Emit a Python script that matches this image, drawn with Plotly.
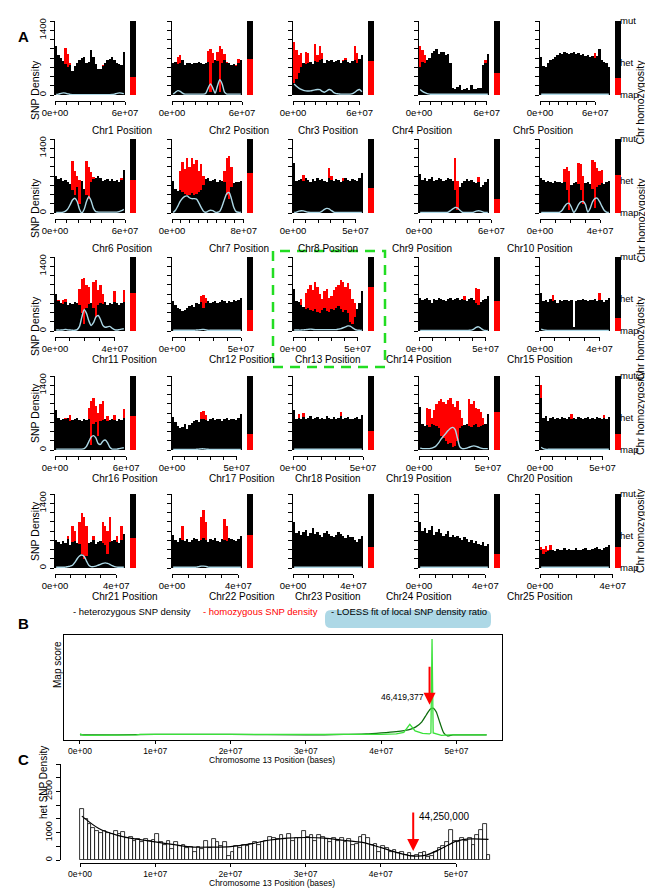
import plotly.graph_objects as go

W, H = 653, 888
FONT = "Liberation Sans, Arial, Helvetica, sans-serif"
RED = "#FF0000"
LOESS_COLOR = "#ADD8E6"

# ---------------- data: panel A ----------------
chromosomes = [f"Chr{i}" for i in range(1, 26)]
chr_length_mb = [60, 60, 63, 62, 76, 60, 78, 56, 58, 46.6, 46.7, 50.7, 54.1, 52.5, 47,
                 59, 54, 50, 50.7, 56, 45.7, 42.2, 46.3, 42.2, 38.5]
x_last_tick_mb = [60, 60, 60, 60, 60, 60, 80, 50, 60, 40, 40, 50, 50, 50, 40,
                  60, 50, 50, 50, 50, 40, 40, 40, 40, 40]
chr_homozygosity = [0.25, 0.49, 0.455, 0.30, 0.23, 0.45, 0.54, 0.34, 0.19, 0.52,
                    0.51, 0.29, 0.60, 0.41, 0.17, 0.46, 0.22, 0.26, 0.51, 0.21,
                    0.41, 0.44, 0.28, 0.19, 0.28]
density_ticks = [0, 200, 400, 600, 800, 1000, 1200, 1400, 1600]
density_ticktext = ["0", "", "", "", "", "", "", "1400", ""]

het_chr1 = [1050, 860, 800, 740, 680, 600, 640, 520, 620, 700, 760, 800, 820, 700, 720, 980, 820, 680, 560, 560, 620, 700, 760, 780, 820, 760, 700, 680, 640, 940]
hom_chr1 = [0, 0, 0, 0, 1020, 880, 700, 0, 0, 0, 0, 0, 0, 0, 0, 0, 0, 0, 0, 0, 640, 0, 0, 0, 0, 0, 0, 0, 0, 0]
loess_chr1 = [10, 20, 35, 45, 40, 25, 12, 8, 8, 8, 8, 8, 8, 8, 8, 8, 8, 8, 8, 8, 8, 8, 8, 8, 10, 20, 35, 45, 40, 30]

het_chr2 = [700, 720, 680, 700, 760, 640, 700, 690, 680, 700, 700, 720, 700, 680, 700, 720, 60, 700, 760, 740, 60, 700, 760, 700, 690, 650, 680, 620, 700, 760]
hom_chr2 = [0, 0, 820, 860, 0, 0, 0, 0, 0, 0, 0, 0, 0, 0, 0, 960, 1000, 900, 0, 940, 1050, 1000, 880, 720, 0, 0, 0, 640, 780, 0]
loess_chr2 = [20, 60, 95, 80, 40, 20, 20, 20, 20, 20, 20, 20, 20, 20, 40, 150, 240, 150, 40, 200, 330, 240, 60, 20, 20, 20, 20, 20, 20, 20]

het_chr3 = [250, 350, 480, 600, 700, 660, 700, 720, 680, 740, 720, 760, 780, 700, 760, 740, 760, 720, 740, 760, 700, 740, 760, 720, 700, 740, 760, 700, 780, 860]
hom_chr3 = [1150, 980, 860, 900, 0, 920, 900, 0, 0, 1100, 860, 1050, 900, 0, 0, 0, 0, 0, 0, 0, 0, 760, 800, 0, 0, 0, 1050, 900, 0, 0]
loess_chr3 = [240, 190, 150, 120, 100, 90, 85, 90, 100, 110, 120, 115, 80, 60, 90, 120, 100, 50, 30, 25, 20, 20, 20, 20, 20, 30, 60, 100, 120, 70]

het_chr4 = [600, 720, 700, 760, 800, 900, 960, 1000, 880, 920, 940, 860, 880, 700, 160, 120, 180, 220, 110, 120, 150, 100, 220, 130, 120, 150, 160, 640, 700, 880]
hom_chr4 = [1050, 980, 860, 0, 0, 0, 0, 0, 0, 0, 0, 0, 0, 0, 0, 0, 0, 0, 0, 0, 0, 0, 0, 0, 0, 0, 0, 0, 760, 0]
loess_chr4 = [120, 80, 50, 30, 20, 15, 15, 15, 15, 15, 15, 15, 15, 15, 15, 15, 15, 15, 15, 15, 15, 15, 15, 15, 15, 15, 15, 15, 15, 15]

het_chr5 = [820, 620, 600, 700, 760, 780, 820, 860, 900, 880, 920, 900, 880, 900, 920, 880, 900, 860, 880, 840, 860, 820, 840, 800, 840, 1000, 760, 720, 700, 600]
hom_chr5 = [0, 0, 0, 0, 0, 0, 0, 0, 0, 0, 0, 0, 0, 0, 0, 0, 0, 0, 0, 0, 0, 0, 0, 900, 0, 0, 0, 0, 0, 0]
loess_chr5 = [15, 15, 15, 15, 15, 15, 15, 15, 15, 15, 15, 15, 15, 15, 15, 15, 15, 15, 15, 15, 15, 15, 15, 15, 15, 15, 15, 15, 15, 15]

het_chr6 = [800, 740, 760, 700, 720, 680, 620, 500, 400, 560, 200, 700, 520, 400, 300, 680, 740, 760, 800, 760, 700, 720, 740, 700, 740, 700, 720, 680, 720, 920]
hom_chr6 = [0, 0, 0, 0, 0, 0, 0, 1130, 900, 800, 720, 0, 0, 1120, 1000, 880, 780, 0, 0, 0, 0, 0, 0, 0, 0, 0, 0, 0, 760, 0]
loess_chr6 = [10, 10, 10, 20, 40, 90, 180, 280, 320, 250, 80, 0, 80, 250, 350, 260, 100, 30, 20, 20, 20, 20, 20, 20, 20, 20, 20, 30, 50, 80]

het_chr7 = [700, 520, 480, 500, 460, 420, 380, 400, 440, 380, 420, 460, 500, 600, 740, 760, 700, 720, 740, 680, 720, 700, 660, 400, 300, 560, 640, 680, 660, 700]
hom_chr7 = [0, 0, 0, 900, 1100, 950, 1180, 1000, 1200, 1050, 1150, 900, 1050, 800, 0, 0, 0, 0, 0, 0, 0, 0, 900, 1200, 1230, 1000, 0, 0, 0, 0]
loess_chr7 = [10, 60, 150, 250, 320, 360, 370, 330, 310, 310, 300, 220, 120, 40, 15, 40, 60, 50, 20, 15, 40, 150, 300, 420, 440, 300, 120, 30, 15, 15]

het_chr8 = [1080, 700, 720, 740, 700, 760, 720, 680, 740, 700, 760, 720, 740, 700, 660, 760, 720, 700, 740, 720, 680, 700, 760, 720, 700, 740, 720, 700, 760, 860]
hom_chr8 = [0, 0, 0, 0, 820, 0, 0, 0, 0, 0, 0, 0, 0, 0, 0, 980, 800, 0, 0, 0, 0, 760, 0, 0, 0, 0, 0, 0, 0, 0]
loess_chr8 = [10, 20, 40, 50, 45, 30, 15, 10, 10, 10, 10, 15, 40, 80, 100, 90, 50, 20, 10, 10, 10, 10, 10, 10, 10, 10, 10, 10, 10, 10]

het_chr9 = [840, 720, 760, 700, 740, 780, 700, 720, 760, 740, 700, 720, 760, 740, 700, 500, 60, 560, 640, 700, 740, 700, 720, 680, 640, 660, 560, 600, 680, 740]
hom_chr9 = [0, 0, 0, 0, 0, 0, 0, 0, 0, 0, 0, 0, 0, 0, 0, 1200, 700, 0, 0, 0, 0, 0, 0, 0, 0, 780, 0, 0, 0, 0]
loess_chr9 = [10, 10, 10, 10, 10, 10, 10, 10, 10, 10, 10, 10, 20, 50, 90, 120, 110, 60, 20, 10, 10, 10, 10, 20, 40, 50, 40, 20, 10, 10]

het_chr10 = [760, 720, 680, 700, 660, 640, 700, 680, 660, 640, 680, 500, 60, 600, 640, 660, 620, 500, 200, 640, 680, 620, 520, 100, 560, 600, 640, 620, 660, 700]
hom_chr10 = [0, 0, 0, 0, 0, 0, 0, 0, 0, 0, 960, 1000, 900, 0, 0, 0, 1080, 1060, 800, 0, 0, 0, 1150, 1100, 980, 900, 920, 0, 0, 0]
loess_chr10 = [10, 10, 10, 10, 10, 10, 10, 10, 20, 60, 140, 200, 210, 120, 10, 80, 180, 240, 250, 180, 20, 100, 240, 310, 320, 250, 150, 60, 20, 10]

het_chr11 = [800, 640, 600, 580, 620, 560, 600, 580, 620, 600, 560, 400, 150, 500, 580, 600, 500, 300, 560, 600, 580, 620, 560, 600, 580, 620, 600, 560, 600, 620]
hom_chr11 = [0, 660, 0, 680, 700, 0, 0, 0, 0, 0, 900, 1120, 1150, 1000, 950, 0, 1050, 1100, 880, 1000, 800, 0, 0, 0, 0, 870, 0, 0, 0, 880]
loess_chr11 = [20, 20, 20, 25, 35, 25, 20, 15, 15, 30, 100, 300, 460, 380, 220, 120, 180, 300, 335, 250, 120, 80, 90, 100, 60, 30, 20, 30, 40, 50]

het_chr12 = [640, 560, 500, 480, 440, 460, 500, 540, 560, 520, 600, 580, 620, 500, 600, 640, 600, 620, 640, 600, 620, 660, 640, 600, 640, 620, 660, 640, 680, 720]
hom_chr12 = [0, 0, 0, 0, 0, 0, 0, 0, 0, 0, 0, 0, 760, 780, 720, 0, 0, 0, 0, 0, 0, 0, 0, 0, 0, 0, 0, 0, 0, 0]
loess_chr12 = [15, 15, 15, 15, 15, 15, 15, 15, 15, 15, 20, 25, 30, 35, 25, 15, 15, 15, 15, 15, 15, 15, 15, 15, 15, 15, 15, 15, 15, 15]

het_chr13 = [900, 640, 620, 560, 520, 480, 500, 460, 440, 480, 420, 400, 460, 500, 440, 420, 480, 460, 500, 540, 480, 420, 460, 380, 200, 160, 300, 480, 600, 860]
hom_chr13 = [0, 0, 0, 700, 0, 820, 900, 1000, 880, 1050, 960, 800, 700, 860, 900, 720, 760, 880, 960, 1000, 1100, 1050, 960, 1040, 900, 700, 600, 0, 0, 0]
loess_chr13 = [20, 20, 20, 20, 25, 30, 35, 40, 35, 30, 30, 30, 30, 30, 30, 30, 30, 30, 30, 40, 50, 70, 90, 110, 105, 70, 35, 20, 15, 15]

het_chr14 = [720, 680, 700, 720, 660, 600, 700, 680, 720, 700, 660, 640, 700, 720, 680, 700, 720, 660, 700, 680, 640, 700, 720, 680, 600, 560, 620, 680, 700, 760]
hom_chr14 = [0, 0, 0, 0, 0, 0, 0, 0, 0, 0, 0, 0, 0, 0, 0, 0, 0, 0, 0, 760, 0, 0, 0, 0, 940, 900, 0, 0, 0, 0]
loess_chr14 = [10, 10, 10, 10, 10, 10, 10, 10, 10, 10, 10, 10, 10, 10, 10, 10, 10, 10, 10, 10, 10, 15, 20, 40, 80, 90, 60, 25, 10, 10]

het_chr15 = [820, 640, 660, 620, 700, 640, 680, 600, 660, 640, 680, 660, 640, 680, 80, 640, 680, 660, 700, 660, 640, 680, 660, 700, 640, 680, 660, 620, 660, 720]
hom_chr15 = [0, 0, 0, 0, 0, 780, 0, 0, 0, 0, 0, 0, 0, 0, 0, 0, 0, 0, 0, 0, 0, 0, 0, 0, 0, 820, 0, 0, 0, 0]
loess_chr15 = [40, 25, 15, 10, 10, 10, 10, 10, 10, 10, 10, 10, 10, 10, 10, 10, 10, 10, 10, 10, 10, 10, 10, 10, 10, 10, 10, 10, 10, 10]

het_chr16 = [860, 700, 640, 680, 660, 700, 620, 640, 660, 700, 640, 620, 660, 640, 680, 100, 560, 600, 300, 620, 640, 660, 620, 640, 680, 640, 620, 660, 640, 700]
hom_chr16 = [0, 700, 0, 0, 700, 0, 760, 0, 0, 0, 0, 0, 0, 0, 900, 1050, 1130, 960, 800, 1000, 1060, 0, 740, 0, 0, 760, 0, 0, 0, 880]
loess_chr16 = [20, 20, 20, 20, 20, 20, 20, 20, 20, 20, 20, 20, 30, 80, 180, 280, 310, 260, 140, 120, 190, 215, 160, 60, 20, 20, 20, 30, 40, 50]

het_chr17 = [720, 600, 520, 480, 500, 560, 460, 540, 580, 620, 640, 600, 680, 660, 640, 620, 660, 700, 640, 660, 680, 620, 660, 700, 640, 680, 660, 640, 700, 780]
hom_chr17 = [0, 0, 0, 0, 0, 0, 0, 0, 0, 0, 0, 0, 830, 840, 760, 0, 0, 0, 0, 0, 0, 0, 0, 0, 0, 0, 0, 0, 0, 0]
loess_chr17 = [10, 10, 10, 10, 10, 10, 10, 10, 10, 10, 15, 20, 25, 25, 20, 15, 10, 10, 10, 10, 10, 10, 10, 10, 10, 10, 10, 10, 10, 10]

het_chr18 = [860, 660, 700, 680, 720, 660, 700, 740, 680, 700, 720, 660, 700, 680, 740, 700, 680, 720, 660, 700, 740, 680, 700, 720, 680, 660, 700, 720, 680, 760]
hom_chr18 = [0, 0, 780, 0, 800, 0, 0, 0, 0, 0, 0, 0, 0, 0, 0, 0, 0, 0, 0, 0, 820, 0, 0, 0, 0, 0, 0, 0, 0, 0]
loess_chr18 = [15, 15, 15, 15, 15, 15, 15, 15, 15, 15, 15, 15, 15, 15, 15, 15, 15, 15, 15, 15, 15, 15, 15, 15, 15, 15, 15, 15, 15, 15]

het_chr19 = [920, 560, 520, 540, 500, 560, 540, 520, 480, 300, 250, 200, 120, 150, 60, 80, 200, 480, 520, 540, 560, 520, 500, 540, 560, 500, 520, 540, 560, 780]
hom_chr19 = [0, 0, 0, 900, 880, 700, 860, 1000, 1060, 1100, 1040, 1000, 1080, 1130, 1000, 920, 1050, 860, 700, 0, 0, 1100, 1000, 1050, 900, 880, 820, 700, 0, 0]
loess_chr19 = [40, 30, 30, 30, 30, 40, 60, 100, 160, 240, 300, 360, 420, 470, 490, 440, 250, 70, 30, 30, 40, 60, 80, 90, 80, 60, 40, 30, 30, 30]

het_chr20 = [1130, 700, 740, 620, 700, 720, 680, 700, 660, 720, 700, 680, 720, 660, 700, 680, 720, 700, 660, 700, 720, 680, 700, 660, 720, 700, 680, 700, 660, 720]
hom_chr20 = [1400, 0, 0, 0, 0, 0, 0, 0, 0, 0, 0, 0, 0, 780, 0, 0, 0, 0, 0, 0, 0, 0, 0, 0, 0, 0, 0, 760, 0, 0]
loess_chr20 = [60, 30, 15, 15, 15, 15, 15, 15, 15, 15, 15, 15, 15, 15, 15, 15, 15, 15, 15, 15, 15, 15, 15, 15, 15, 15, 15, 15, 15, 15]

het_chr21 = [600, 560, 520, 580, 540, 620, 500, 560, 580, 540, 520, 300, 200, 250, 540, 560, 600, 520, 560, 580, 540, 500, 300, 560, 580, 600, 560, 540, 600, 740]
hom_chr21 = [0, 0, 0, 0, 0, 700, 0, 900, 800, 0, 1000, 1200, 1100, 900, 0, 0, 700, 0, 0, 0, 1000, 900, 800, 1100, 0, 0, 700, 0, 900, 0]
loess_chr21 = [15, 15, 15, 15, 20, 30, 40, 60, 120, 200, 260, 280, 250, 150, 60, 30, 30, 40, 60, 80, 100, 110, 100, 80, 50, 30, 20, 15, 15, 15]

het_chr22 = [720, 600, 560, 640, 600, 580, 620, 560, 600, 640, 620, 580, 600, 640, 600, 560, 620, 600, 640, 580, 560, 620, 600, 580, 640, 620, 600, 580, 620, 700]
hom_chr22 = [0, 0, 0, 0, 900, 0, 0, 0, 0, 0, 0, 0, 1100, 1250, 1000, 0, 0, 0, 0, 0, 0, 0, 1050, 900, 0, 0, 0, 0, 0, 0]
loess_chr22 = [15, 15, 15, 15, 15, 15, 15, 15, 15, 15, 20, 30, 40, 40, 35, 20, 15, 15, 15, 15, 15, 15, 15, 15, 15, 15, 15, 15, 15, 15]

het_chr23 = [1000, 760, 800, 720, 780, 820, 700, 760, 860, 740, 780, 720, 680, 760, 800, 740, 700, 660, 720, 780, 740, 700, 640, 720, 680, 660, 600, 560, 620, 700]
hom_chr23 = [0, 0, 0, 0, 0, 0, 0, 0, 0, 0, 0, 0, 0, 0, 0, 0, 0, 0, 0, 0, 0, 0, 0, 0, 0, 0, 0, 0, 0, 0]
loess_chr23 = [15, 15, 15, 15, 15, 15, 15, 15, 15, 15, 15, 15, 15, 15, 15, 15, 15, 15, 15, 15, 15, 15, 15, 15, 15, 15, 15, 15, 15, 15]

het_chr24 = [1000, 800, 860, 760, 820, 900, 720, 780, 840, 760, 700, 740, 800, 680, 720, 660, 700, 640, 600, 680, 620, 560, 600, 540, 580, 520, 500, 560, 480, 520]
hom_chr24 = [0, 0, 0, 0, 0, 0, 0, 0, 0, 0, 0, 0, 0, 0, 0, 0, 0, 0, 0, 0, 0, 0, 0, 0, 0, 0, 0, 0, 0, 0]
loess_chr24 = [15, 15, 15, 15, 15, 15, 15, 15, 15, 15, 15, 15, 15, 15, 15, 15, 15, 15, 15, 15, 15, 15, 15, 15, 15, 15, 15, 15, 15, 15]

het_chr25 = [380, 300, 340, 360, 400, 380, 360, 420, 380, 400, 440, 380, 420, 400, 380, 440, 400, 380, 420, 440, 400, 380, 420, 440, 460, 420, 400, 440, 460, 500]
hom_chr25 = [450, 420, 480, 400, 500, 0, 0, 0, 0, 0, 0, 0, 0, 0, 0, 0, 0, 0, 0, 0, 0, 0, 0, 0, 0, 0, 0, 0, 0, 0]
loess_chr25 = [15, 15, 15, 15, 15, 15, 15, 15, 15, 15, 15, 15, 15, 15, 15, 15, 15, 15, 15, 15, 15, 15, 15, 15, 15, 15, 15, 15, 15, 15]

het_series = [het_chr1, het_chr2, het_chr3, het_chr4, het_chr5, het_chr6, het_chr7, het_chr8, het_chr9, het_chr10,
              het_chr11, het_chr12, het_chr13, het_chr14, het_chr15, het_chr16, het_chr17, het_chr18, het_chr19, het_chr20,
              het_chr21, het_chr22, het_chr23, het_chr24, het_chr25]
hom_series = [hom_chr1, hom_chr2, hom_chr3, hom_chr4, hom_chr5, hom_chr6, hom_chr7, hom_chr8, hom_chr9, hom_chr10,
              hom_chr11, hom_chr12, hom_chr13, hom_chr14, hom_chr15, hom_chr16, hom_chr17, hom_chr18, hom_chr19, hom_chr20,
              hom_chr21, hom_chr22, hom_chr23, hom_chr24, hom_chr25]
loess_series = [loess_chr1, loess_chr2, loess_chr3, loess_chr4, loess_chr5, loess_chr6, loess_chr7, loess_chr8, loess_chr9, loess_chr10,
                loess_chr11, loess_chr12, loess_chr13, loess_chr14, loess_chr15, loess_chr16, loess_chr17, loess_chr18, loess_chr19, loess_chr20,
                loess_chr21, loess_chr22, loess_chr23, loess_chr24, loess_chr25]

# ---------------- data: panel B ----------------
b_pos_light_mb = [0, 0.5, 1, 2, 4, 6, 7.5, 8, 10, 15, 20, 25, 30, 35, 38, 40, 42, 43, 43.8, 44.5, 45.5, 46.4, 46.6, 46.75, 46.9, 47.3, 48, 49, 50, 52, 54]
b_score_light = [0.06, 0.045, 0.045, 0.045, 0.045, 0.045, 0.05, 0.055, 0.055, 0.055, 0.055, 0.055, 0.05, 0.05, 0.05, 0.055, 0.06, 0.075, 0.155, 0.09, 0.065, 0.06, 0.07, 1.0, 0.07, 0.06, 0.045, 0.05, 0.05, 0.05, 0.05]
b_pos_dark_mb = [0, 5, 10, 20, 30, 35, 38, 40, 42, 43.6, 44.6, 45.4, 46.0, 46.5, 46.9, 47.3, 47.8, 48.3, 48.8, 49.5, 52, 54]
b_score_dark = [0.05, 0.05, 0.055, 0.055, 0.05, 0.055, 0.06, 0.07, 0.083, 0.1, 0.13, 0.18, 0.25, 0.305, 0.315, 0.28, 0.17, 0.07, 0.04, 0.05, 0.05, 0.05]
b_arrow_pos = 46419377
b_ticks_mb = [0, 10, 20, 30, 40, 50]
b_ticktext = ["0e+00", "1e+07", "2e+07", "3e+07", "4e+07", "5e+07"]

# ---------------- data: panel C ----------------
c_bin_mb = 0.5
c_het_density = [1870, 1500, 1320, 1150, 1050, 1000, 1050, 1000, 950, 1050,
                 950, 1030, 800, 850, 700, 780, 650, 750, 700, 720,
                 950, 650, 550, 700, 400, 650, 500, 550, 450, 480,
                 300, 480, 400, 700, 450, 750, 650, 500, 650, 150,
                 280, 500, 450, 550, 500, 600, 650, 550, 650, 700,
                 850, 800, 750, 900, 750, 950, 700, 800, 800, 1050,
                 850, 900, 700, 900, 850, 750, 650, 800, 700, 800,
                 650, 750, 550, 600, 850, 900, 800, 550, 600, 300,
                 500, 450, 300, 350, 250, 300, 200, 250, 150, 200,
                 250, 300, 100, 150, 300, 450, 500, 650, 1100, 700,
                 650, 800, 700, 800, 550, 900, 1100, 1300, 200]
c_smooth_pos_mb = [0.25, 2.5, 5, 7.5, 10, 12.5, 15, 17.5, 20, 22.5, 25, 27.5, 30, 32.5, 35, 37.5, 40, 42, 44, 46, 48, 50, 52, 54.25]
c_smooth = [1600, 1150, 900, 760, 660, 560, 470, 470, 490, 580, 720, 800, 820, 800, 720, 640, 450, 280, 150, 180, 420, 690, 770, 750]
c_arrow_pos = 44250000
c_yticks = [0, 500, 1000, 1500, 2000, 2500, 3000, 3500]
c_yticktext = ["0", "", "1000", "", "", "2500", "", ""]

# ---------------- layout geometry (pixels) ----------------
COL_X0 = [47, 164, 285, 411, 532]
ROW_TOP = [13, 131, 249, 368, 486]
PANEL_W, PANEL_H = 70, 74
AXIS_GAP = 6
TITLE_GAP = 28

def fx(p):
    return p / W

def fy(p):
    return 1 - p / H

def xr(k):
    return "x" if k == 1 else f"x{k}"

def yr(k):
    return "y" if k == 1 else f"y{k}"

def xl(k):
    return "xaxis" if k == 1 else f"xaxis{k}"

def yl(k):
    return "yaxis" if k == 1 else f"yaxis{k}"

counter = [0]
def nxt():
    counter[0] += 1
    return counter[0]

fig = go.Figure()
layout = {}
annotations = []
shapes = []

axis_common = dict(showgrid=False, zeroline=False, linecolor="black", linewidth=1,
                   tickcolor="black", tickwidth=1, fixedrange=True, automargin=False)

for i in range(25):
    r, c = divmod(i, 5)
    X0 = COL_X0[c]
    top = ROW_TOP[r]
    bot = top + PANEL_H
    L = chr_length_mb[i] * 1e6
    last = x_last_tick_mb[i] * 1e6
    a, b, s = nxt(), nxt(), nxt()
    het, hom, lo = het_series[i], hom_series[i], loess_series[i]
    nb = len(het)
    bw = L / nb
    centers = [(k + 0.5) * bw for k in range(nb)]

    fig.add_trace(go.Bar(x=centers, y=hom, width=bw, marker=dict(color=RED, line=dict(width=0)),
                         xaxis=xr(a), yaxis=yr(a)))
    fig.add_trace(go.Bar(x=centers, y=het, width=bw, marker=dict(color="black", line=dict(width=0)),
                         xaxis=xr(a), yaxis=yr(a)))
    fig.add_trace(go.Scatter(x=centers, y=lo, mode="lines",
                             line=dict(color=LOESS_COLOR, width=1.4, shape="spline", smoothing=0.7),
                             xaxis=xr(a), yaxis=yr(a)))
    fig.add_trace(go.Scatter(x=[0, last], y=[0, 0], mode="markers", marker=dict(opacity=0, size=1),
                             xaxis=xr(b), yaxis=yr(a)))
    fig.add_trace(go.Bar(x=[0], y=[1], width=1, marker=dict(color="black", line=dict(width=0)),
                         xaxis=xr(s), yaxis=yr(s)))
    fig.add_trace(go.Bar(x=[0], y=[chr_homozygosity[i]], width=1, marker=dict(color=RED, line=dict(width=0)),
                         xaxis=xr(s), yaxis=yr(s)))

    layout[xl(a)] = dict(domain=[fx(X0), fx(X0 + PANEL_W)], range=[0, L], visible=False, fixedrange=True)
    layout[yl(a)] = dict(domain=[fy(bot), fy(top)], range=[0, 1600], anchor=xr(a),
                         showline=True, ticks="outside", ticklen=4,
                         tickvals=density_ticks,
                         ticktext=density_ticktext if c == 0 else [""] * len(density_ticks),
                         tickangle=-90, tickfont=dict(size=9.5), **axis_common)
    nt = int(round(last / 1e7))
    tv = [k * 1e7 for k in range(nt + 1)]
    tt = ["0e+00"] + [""] * (nt - 1) + [f"{nt}e+07"]
    layout[xl(b)] = dict(domain=[fx(X0), fx(X0 + PANEL_W * last / L)], range=[0, last],
                         anchor="free", position=fy(bot + AXIS_GAP), showline=True,
                         ticks="outside", ticklen=3, tickvals=tv, ticktext=tt,
                         tickfont=dict(size=9.5), **axis_common)
    layout[xl(s)] = dict(domain=[fx(X0 + 75), fx(X0 + 81)], range=[-0.5, 0.5], visible=False, fixedrange=True)
    if c == 4:
        layout[yl(s)] = dict(domain=[fy(bot), fy(top)], range=[0, 1], anchor="free", position=fx(X0 + 79),
                             side="right",
                             showline=False, ticks="", tickvals=[0, 0.44, 1],
                             ticktext=["map", "het", "mut"], tickfont=dict(size=9.5),
                             showgrid=False, zeroline=False, fixedrange=True, automargin=False)
        annotations.append(dict(text="Chr homozygosity", x=fx(640), y=fy((top + bot) / 2),
                                xref="paper", yref="paper", showarrow=False, textangle=-90,
                                font=dict(size=10.5)))
    else:
        layout[yl(s)] = dict(domain=[fy(bot), fy(top)], range=[0, 1], anchor=xr(s), visible=False, fixedrange=True)

    annotations.append(dict(text=f"{chromosomes[i]} Position", x=fx(X0 + PANEL_W / 2), y=fy(bot + TITLE_GAP),
                            xref="paper", yref="paper", showarrow=False, font=dict(size=10)))
    if c == 0:
        annotations.append(dict(text="SNP Density", x=fx(19), y=fy((top + bot) / 2),
                                xref="paper", yref="paper", showarrow=False, textangle=-90,
                                font=dict(size=10.5)))

# green dashed box around Chr13 (encloses its title)
shapes.append(dict(type="rect", xref="paper", yref="paper", x0=fx(265), x1=fx(377), y0=fy(359), y1=fy(243),
                   line=dict(color="#22DD22", width=2.5, dash="10px,7px")))

# legend row
LEG_Y = 611
annotations.append(dict(text="- heterozygous SNP density", x=fx(63), y=fy(LEG_Y), xref="paper", yref="paper",
                        xanchor="left", showarrow=False, font=dict(size=9.5, color="black")))
annotations.append(dict(text="- homozygous SNP density", x=fx(193), y=fy(LEG_Y), xref="paper", yref="paper",
                        xanchor="left", showarrow=False, font=dict(size=9.5, color=RED)))
annotations.append(dict(text="- LOESS fit of local SNP density ratio", x=fx(321), y=fy(LEG_Y), xref="paper",
                        yref="paper", xanchor="left", showarrow=False, font=dict(size=9.5, color="black")))

def rounded_rect_path(x0, y0, x1, y1, rad):
    pts = []
    pts.append(f"M {fx(x0 + rad)},{fy(y0)}")
    pts.append(f"L {fx(x1 - rad)},{fy(y0)}")
    pts.append(f"Q {fx(x1)},{fy(y0)} {fx(x1)},{fy(y0 + rad)}")
    pts.append(f"L {fx(x1)},{fy(y1 - rad)}")
    pts.append(f"Q {fx(x1)},{fy(y1)} {fx(x1 - rad)},{fy(y1)}")
    pts.append(f"L {fx(x0 + rad)},{fy(y1)}")
    pts.append(f"Q {fx(x0)},{fy(y1)} {fx(x0)},{fy(y1 - rad)}")
    pts.append(f"L {fx(x0)},{fy(y0 + rad)}")
    pts.append(f"Q {fx(x0)},{fy(y0)} {fx(x0 + rad)},{fy(y0)} Z")
    return " ".join(pts)

shapes.append(dict(type="path", xref="paper", yref="paper", path=rounded_rect_path(317, 602, 483, 620, 6),
                   fillcolor=LOESS_COLOR, line=dict(width=0), layer="below"))

# panel letters
for letter, py in (("A", 18), ("B", 626), ("C", 762)):
    annotations.append(dict(text=f"<b>{letter}</b>", x=fx(8), y=fy(py), xref="paper", yref="paper",
                            showarrow=False, font=dict(size=15)))

# ---------------- panel B ----------------
XR_BC = [-2.12e6, 5.604e7]
kb = nxt()
fig.add_trace(go.Scatter(x=[p * 1e6 for p in b_pos_dark_mb], y=b_score_dark, mode="lines",
                         line=dict(color="#0B6B0B", width=1.3, shape="spline", smoothing=0.5),
                         xaxis=xr(kb), yaxis=yr(kb)))
fig.add_trace(go.Scatter(x=[p * 1e6 for p in b_pos_light_mb], y=b_score_light, mode="lines",
                         line=dict(color="#3AE23A", width=1.3),
                         xaxis=xr(kb), yaxis=yr(kb)))
layout[xl(kb)] = dict(domain=[fx(56), fx(494)], range=XR_BC, anchor=yr(kb), showline=True, mirror=True,
                      ticks="outside", ticklen=3, tickvals=[t * 1e6 for t in b_ticks_mb], ticktext=b_ticktext,
                      tickfont=dict(size=8.5), **axis_common)
layout[yl(kb)] = dict(domain=[fy(732), fy(627)], range=[0, 1.04], anchor=xr(kb), showline=True, mirror=True,
                      ticks="", showticklabels=False, **axis_common)
annotations.append(dict(x=b_arrow_pos, y=0.35, ax=b_arrow_pos, ay=0.74, xref=xr(kb), yref=yr(kb),
                        axref=xr(kb), ayref=yr(kb), showarrow=True, arrowcolor=RED, arrowwidth=2,
                        arrowhead=2, arrowsize=1.2, text=""))
annotations.append(dict(text="46,419,377", x=45.9e6, y=0.43, xref=xr(kb), yref=yr(kb), xanchor="right",
                        showarrow=False, font=dict(size=8.5)))
annotations.append(dict(text="Map score", x=fx(42), y=fy(682), xref="paper", yref="paper", textangle=-90,
                        showarrow=False, font=dict(size=10)))
annotations.append(dict(text="Chromosome 13 Position (bases)", x=fx(264), y=fy(759), xref="paper", yref="paper",
                        showarrow=False, font=dict(size=8.5)))

# ---------------- panel C ----------------
kc = nxt()
kt = nxt()
nbin = len(c_het_density)
c_centers = [(k + 0.5) * c_bin_mb * 1e6 for k in range(nbin)]
fig.add_trace(go.Bar(x=c_centers, y=c_het_density, width=c_bin_mb * 1e6,
                     marker=dict(color="white", line=dict(color="black", width=0.8)),
                     xaxis=xr(kc), yaxis=yr(kc)))
fig.add_trace(go.Scatter(x=[p * 1e6 for p in c_smooth_pos_mb], y=c_smooth, mode="lines",
                         line=dict(color="black", width=1.2, shape="spline", smoothing=0.8),
                         xaxis=xr(kc), yaxis=yr(kc)))
fig.add_trace(go.Scatter(x=[0, 5e7], y=[0, 0], mode="markers", marker=dict(opacity=0, size=1),
                         xaxis=xr(kt), yaxis=yr(kc)))
layout[xl(kc)] = dict(domain=[fx(56), fx(494)], range=XR_BC, visible=False, fixedrange=True)
layout[yl(kc)] = dict(domain=[fy(852), fy(756)], range=[0, 3500], anchor="free", position=fx(52),
                      showline=True, ticks="outside", ticklen=4, tickvals=c_yticks, ticktext=c_yticktext,
                      tickangle=-90, tickfont=dict(size=9), **axis_common)
layout[xl(kt)] = dict(domain=[fx(72), fx(448)], range=[0, 5e7], anchor="free", position=fy(855),
                      showline=True, ticks="outside", ticklen=3, tickvals=[t * 1e6 for t in b_ticks_mb],
                      ticktext=b_ticktext, tickfont=dict(size=8.5), **axis_common)
annotations.append(dict(x=c_arrow_pos, y=330, ax=c_arrow_pos, ay=1790, xref=xr(kc), yref=yr(kc),
                        axref=xr(kc), ayref=yr(kc), showarrow=True, arrowcolor=RED, arrowwidth=2,
                        arrowhead=2, arrowsize=1.2, text=""))
annotations.append(dict(text="44,250,000", x=44.8e6, y=1600, xref=xr(kc), yref=yr(kc), xanchor="left",
                        showarrow=False, font=dict(size=10)))
annotations.append(dict(text="het SNP Density", x=fx(28), y=fy(813), xref="paper", yref="paper", textangle=-90,
                        showarrow=False, font=dict(size=10)))
annotations.append(dict(text="Chromosome 13 Position (bases)", x=fx(264), y=fy(882), xref="paper", yref="paper",
                        showarrow=False, font=dict(size=8.5)))

fig.update_layout(width=W, height=H, margin=dict(l=0, r=0, t=0, b=0, pad=0, autoexpand=False),
                  paper_bgcolor="white",
                  plot_bgcolor="rgba(0,0,0,0)", barmode="overlay", bargap=0, showlegend=False,
                  hovermode=False, font=dict(family=FONT, color="black", size=10),
                  annotations=annotations, shapes=shapes, **layout)
fig.write_html("out.html")
